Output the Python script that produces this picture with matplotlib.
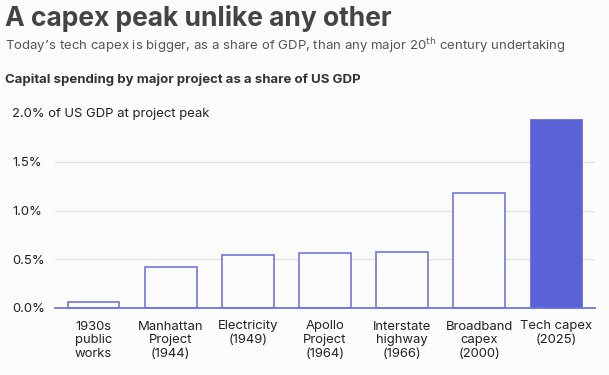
import matplotlib.pyplot as plt

projects = ["1930s\npublic\nworks", "Manhattan\nProject\n(1944)", "Electricity\n(1949)",
            "Apollo\nProject\n(1964)", "Interstate\nhighway\n(1966)", "Broadband\ncapex\n(2000)",
            "Tech capex\n(2025)"]
share = [0.06, 0.42, 0.545, 0.56, 0.575, 1.18, 1.93]
yticks = [0.0, 0.5, 1.0, 1.5, 2.0]
ylabels = ["0.0%", "0.5%", "1.0%", "1.5%", "2.0% of US GDP at project peak"]

plt.rcParams['font.family'] = ['Inter', 'DejaVu Sans']

blue = "#5a62d8"
edge = "#7077e0"
bg = "#fdfcfd"

fig = plt.figure(figsize=(6.09, 3.75), dpi=100, facecolor=bg)
ax = fig.add_axes([55/609, 1-308/375, 540/609, 195/375], facecolor=bg)

x = list(range(len(projects)))
fills = [bg]*(len(projects)-1) + [blue]
edges = [edge]*(len(projects)-1) + [blue]
ax.bar(x, share, width=0.67, color=fills, edgecolor=edges, linewidth=1.2, zorder=3, clip_on=False)

ax.set_xlim(-0.5, len(projects)-0.5)
ax.set_ylim(0, 2.0)
ax.set_yticks(yticks)
ax.set_yticklabels(ylabels, fontsize=9.4, color="#222222", ha="left")
ax.tick_params(axis="y", length=0, pad=31)
ax.set_xticks(x)
ax.set_xticklabels(projects, fontsize=9.4, color="#222222", linespacing=1.2, va="top")
ax.tick_params(axis="x", length=0, pad=9)

ax.yaxis.grid(True, color="#e4e2e4", linewidth=1, zorder=0)
ax.yaxis.get_gridlines()[-1].set_visible(False)
for s in ["top", "right", "left"]:
    ax.spines[s].set_visible(False)
ax.spines["bottom"].set_color(edge)
ax.spines["bottom"].set_linewidth(1.3)
ax.spines["bottom"].set_zorder(4)

fig.text(5/609, 1-26/375, "A capex peak unlike any other", fontsize=19, fontweight="bold", color="#444444")
fig.text(5/609, 1-50/375, "Today\u2019s tech capex is bigger, as a share of GDP, than any major 20$^{\\mathrm{th}}$ century undertaking",
         fontsize=9.5, color="#555555")
fig.text(5/609, 1-83/375, "Capital spending by major project as a share of US GDP", fontsize=9.5,
         fontweight="bold", color="#333333")

fig.savefig("out.png", dpi=100, facecolor=bg)
